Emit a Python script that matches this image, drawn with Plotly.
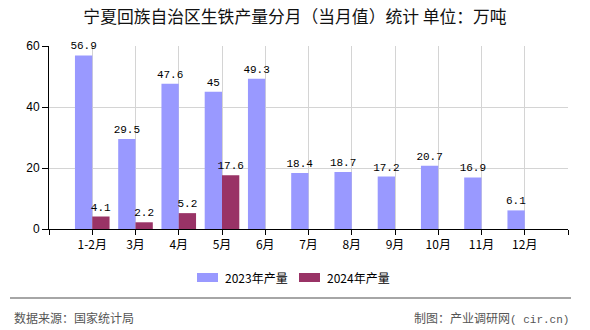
import plotly.graph_objects as go

categories = ["1-2月", "3月", "4月", "5月", "6月", "7月", "8月", "9月", "10月", "11月", "12月"]
values_2023 = [56.9, 29.5, 47.6, 45, 49.3, 18.4, 18.7, 17.2, 20.7, 16.9, 6.1]
values_2024 = [4.1, 2.2, 5.2, 17.6]
series_names = ["2023年产量", "2024年产量"]
series_colors = ["#9999FF", "#993366"]
y_ticks = [0, 20, 40, 60]

W, H = 590, 330
L, R, T, B = 49, 568, 46, 229

CJK = "Noto Sans CJK SC"
MONO = "Liberation Mono"


def px_x(px):
    return (px - L) / (R - L)


def px_y(py):
    return (B - py) / (B - T)


xpos = list(range(len(categories)))
fig = go.Figure()
for name, color, vals in zip(series_names, series_colors, [values_2023, values_2024]):
    fig.add_trace(go.Bar(
        x=xpos[:len(vals)], y=vals, name=name,
        marker=dict(color=color, line=dict(width=0)),
        text=[f"{v:g}" for v in vals], textposition="outside",
        textfont=dict(family=MONO, size=11, color="#000000"),
        constraintext="none", cliponaxis=False, showlegend=False,
    ))

n = len(categories)
tickvals = list(range(-1, n + 1))
ticktext = [""] + categories + [""]

fig.update_layout(
    width=W, height=H,
    margin=dict(l=L, r=W - R, t=T, b=H - B, pad=0),
    paper_bgcolor="white", plot_bgcolor="white",
    barmode="group", bargap=0.2, bargroupgap=0,
    font=dict(family=CJK, size=12, color="#000000"),
    title=dict(
        text="宁夏回族自治区生铁产量分月（当月值）统计 单位：万吨",
        x=0.5, xanchor="center", xref="container",
        y=1 - 17 / H, yanchor="middle", yref="container",
        font=dict(family=CJK, size=16.8, color="#111111"),
    ),
    xaxis=dict(
        range=[-1, n], tickmode="array", tickvals=tickvals, ticktext=ticktext,
        showgrid=True, gridcolor="#d4d4d4", gridwidth=1,
        showline=True, linecolor="#000000", linewidth=1,
        ticks="outside", ticklen=5, tickcolor="#000000",
        tickfont=dict(family=CJK, size=12, color="#000000"),
        zeroline=False, fixedrange=True,
    ),
    yaxis=dict(
        range=[0, 60], tickmode="array", tickvals=y_ticks,
        showgrid=True, gridcolor="#d4d4d4", gridwidth=1,
        showline=True, linecolor="#000000", linewidth=1,
        ticks="outside", ticklen=6, tickcolor="#000000",
        tickfont=dict(family="Liberation Sans", size=12, color="#000000"),
        zeroline=False, fixedrange=True,
    ),
    showlegend=False,
)

# manual legend
legend_x = [197, 299]
for lx, name, color in zip(legend_x, series_names, series_colors):
    fig.add_shape(type="rect", xref="paper", yref="paper",
                  x0=px_x(lx), x1=px_x(lx + 21), y0=px_y(282), y1=px_y(273),
                  fillcolor=color, line=dict(width=0))
    fig.add_annotation(text=name, xref="paper", yref="paper",
                       x=px_x(lx + 26), xanchor="left", y=px_y(277.5), yanchor="middle",
                       showarrow=False,
                       font=dict(family=CJK, size=12, color="#000000"))

fig.add_shape(type="line", xref="paper", yref="paper",
              x0=px_x(10), x1=px_x(571), y0=px_y(298), y1=px_y(298),
              line=dict(color="#888888", width=1.5))

fig.add_annotation(text="数据来源：国家统计局", xref="paper", yref="paper",
                   x=px_x(12), xanchor="left",
                   y=px_y(317), yanchor="middle", showarrow=False,
                   font=dict(family=CJK, size=12, color="#555555"))
fig.add_annotation(text="制图：产业调研网<span style='font-family:Liberation Mono;font-size:11px'>( cir.cn)</span>",
                   xref="paper", yref="paper",
                   x=px_x(571), xanchor="right",
                   y=px_y(317), yanchor="middle", showarrow=False,
                   font=dict(family=CJK, size=12, color="#555555"))

fig.write_html("out.html")
